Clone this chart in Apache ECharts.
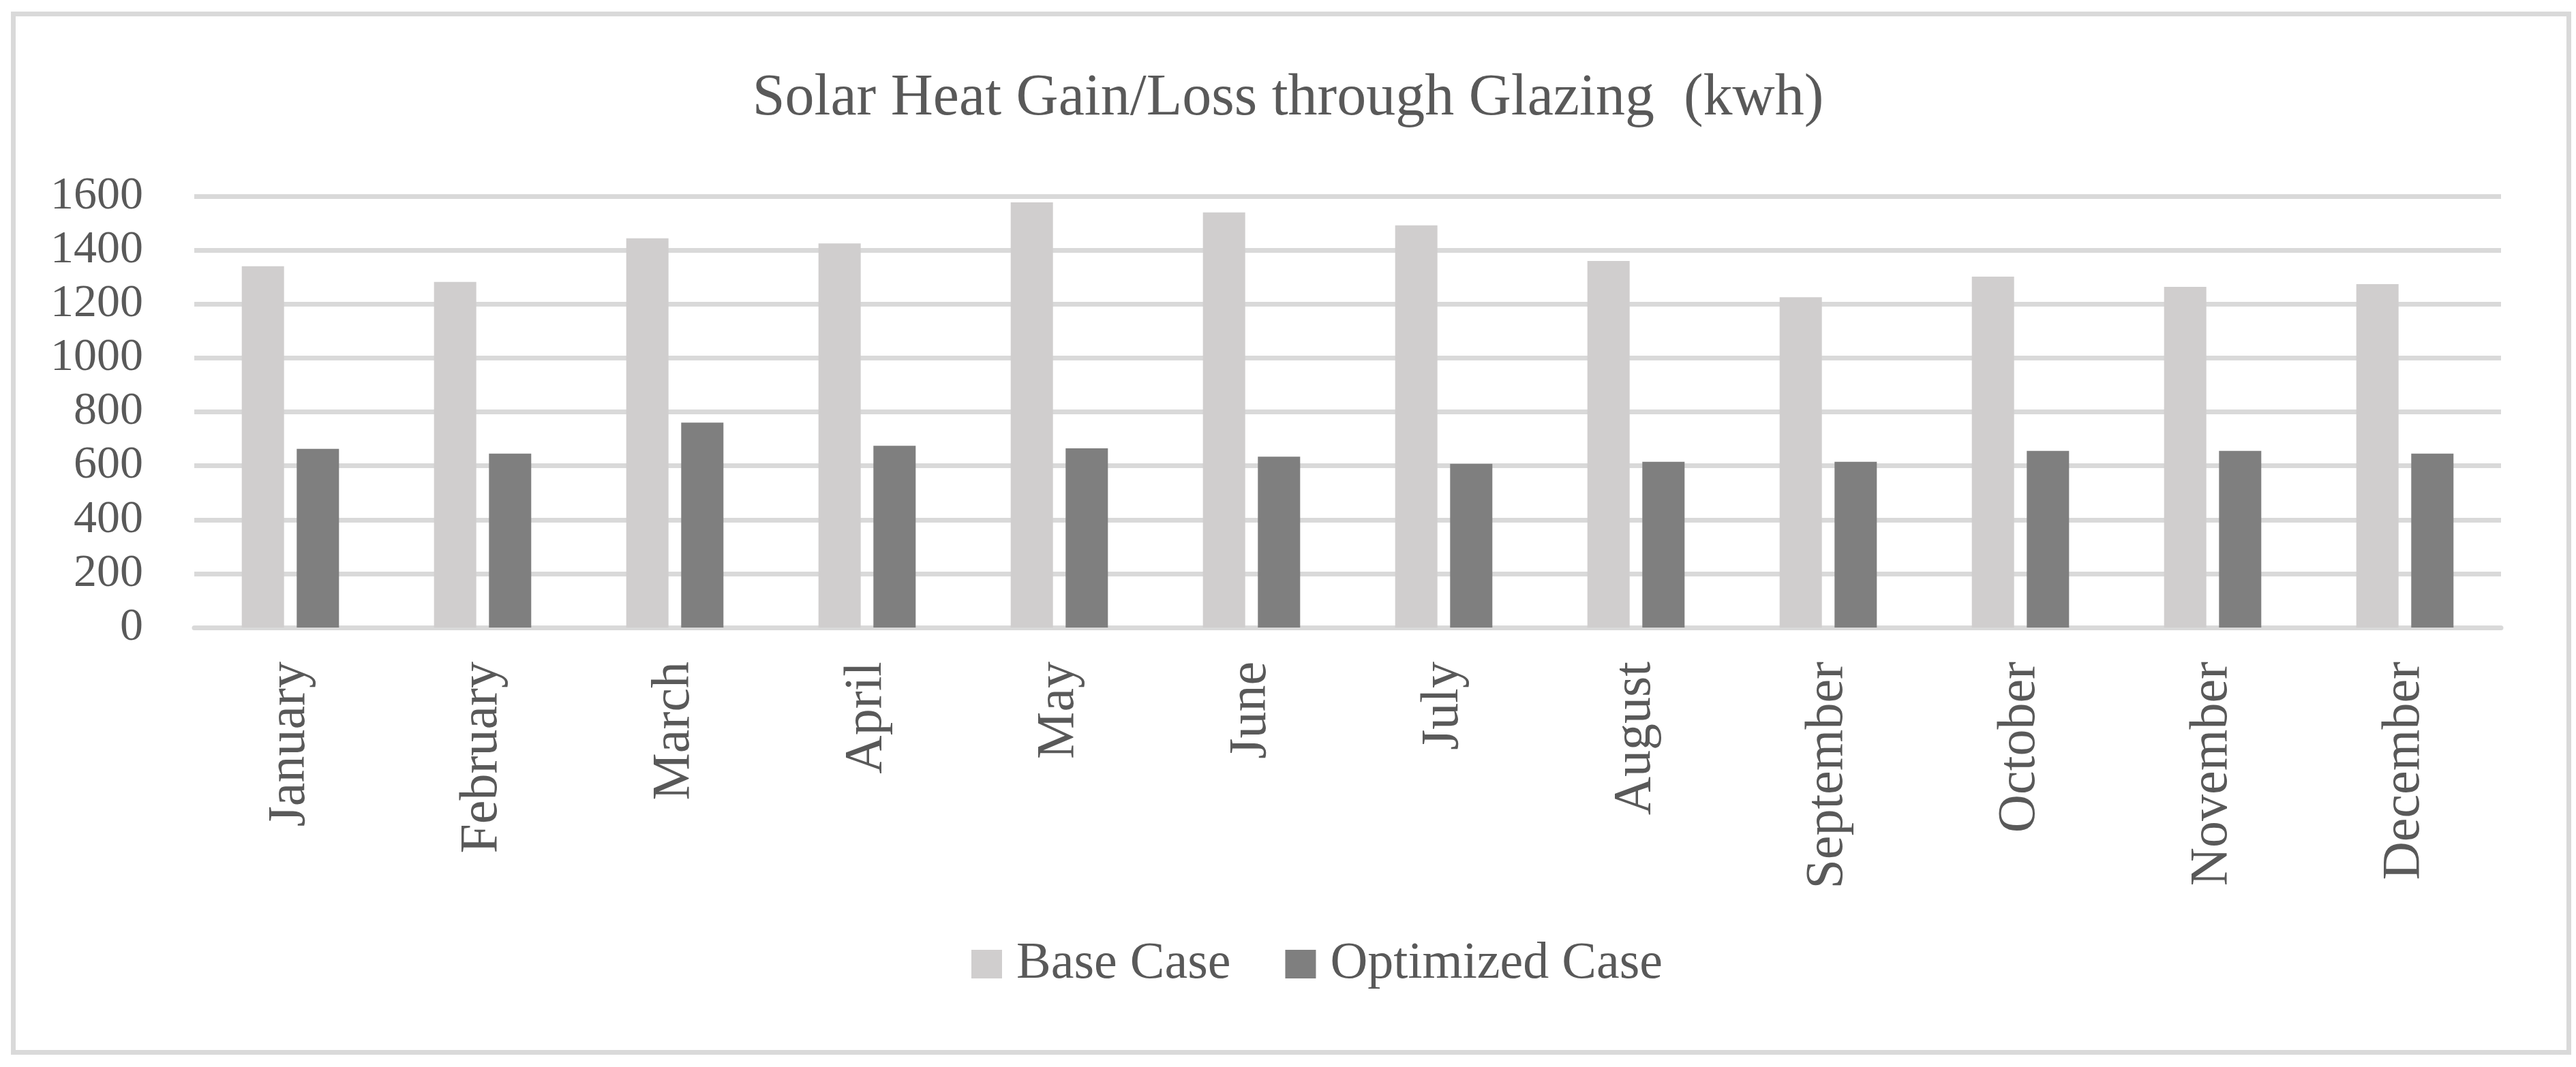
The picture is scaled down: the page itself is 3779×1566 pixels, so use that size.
<!DOCTYPE html>
<html>
<head>
<meta charset="utf-8">
<script src="https://cdn.jsdelivr.net/npm/echarts@6/dist/echarts.min.js"></script>
<style>
html,body{margin:0;padding:0;background:#fff;}
#chart{width:3779px;height:1566px;}
</style>
</head>
<body>
<div id="chart"></div>
<script>
const titleText = 'Solar Heat Gain/Loss through Glazing  (kwh)';
const months = ['January','February','March','April','May','June','July','August','September','October','November','December'];
const baseCase = [1340, 1282, 1444, 1425, 1577, 1540, 1492, 1360, 1225, 1302, 1264, 1274];
const optimizedCase = [663, 645, 760, 674, 665, 634, 607, 615, 615, 655, 655, 645];
const seriesNames = ['Base Case', 'Optimized Case'];
const yTicks = {min: 0, max: 1600, interval: 200};

const FONT = 'Liberation Serif';
const TXT = '#595959';
const GRID = '#d9d9d9';

const chart = echarts.init(document.getElementById('chart'), null, {renderer: 'canvas'});
chart.setOption({
  backgroundColor: '#ffffff',
  animation: false,
  graphic: [{
    type: 'rect',
    shape: {x: 19.5, y: 20.5, width: 3749, height: 1524},
    style: {fill: 'none', stroke: GRID, lineWidth: 7},
    silent: true
  }],
  title: {
    text: titleText,
    left: 'center',
    top: 97,
    textStyle: {fontFamily: FONT, fontSize: 86, fontWeight: 'normal', color: TXT}
  },
  legend: {
    data: seriesNames,
    left: 1420,
    top: 1372,
    itemWidth: 45,
    itemHeight: 42,
    itemGap: 80,
    icon: 'rect',
    textStyle: {fontFamily: FONT, fontSize: 76, color: TXT, padding: [0, 0, 0, 16]}
  },
  grid: {left: 285, right: 110, top: 288, bottom: 645, containLabel: false, outerBoundsMode: 'none'},
  xAxis: {
    type: 'category',
    data: months,
    axisLine: {show: true, lineStyle: {color: GRID, width: 7}},
    axisTick: {show: false},
    axisLabel: {rotate: 90, margin: 50, fontFamily: FONT, fontSize: 78, color: TXT, interval: 0}
  },
  yAxis: {
    type: 'value',
    min: yTicks.min,
    max: yTicks.max,
    interval: yTicks.interval,
    axisLine: {show: false},
    axisTick: {show: false},
    axisLabel: {margin: 75, fontFamily: FONT, fontSize: 68, color: TXT, formatter: function (v) { return String(v); }},
    splitLine: {show: true, lineStyle: {color: GRID, width: 7}}
  },
  series: [
    {name: seriesNames[0], type: 'bar', data: baseCase, barWidth: 62, barGap: '30%', itemStyle: {color: '#d0cece'}},
    {name: seriesNames[1], type: 'bar', data: optimizedCase, barWidth: 62, barGap: '30%', itemStyle: {color: '#7f7f7f'}}
  ]
});
</script>
</body>
</html>
